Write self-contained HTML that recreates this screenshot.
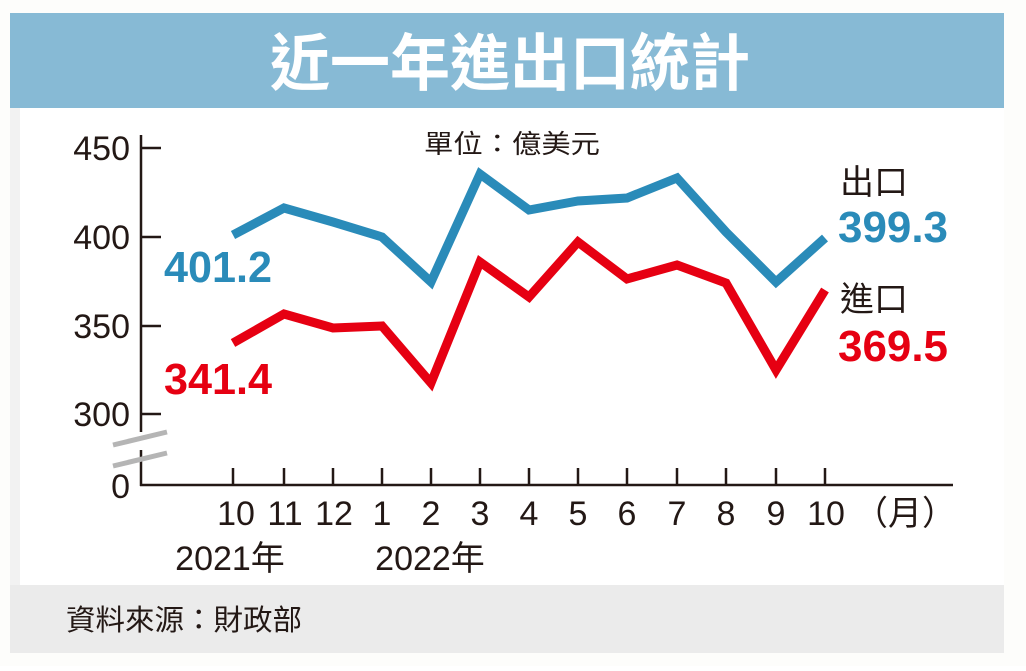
<!DOCTYPE html>
<html><head><meta charset="utf-8"><style>
body{margin:0;background:#fff;}
svg text{font-family:"Liberation Sans","Noto Sans CJK TC",sans-serif;}
</style></head><body>
<svg width="1026" height="666" xmlns="http://www.w3.org/2000/svg">
<rect x="0" y="0" width="1026" height="666" fill="#fdfdfb"/>
<rect x="10" y="13" width="994" height="640" fill="#f2f2f2"/>
<rect x="10" y="13" width="994" height="95" fill="#87bad5"/>
<text x="510" y="85" text-anchor="middle" font-size="62" font-weight="bold" fill="#fff" textLength="480" lengthAdjust="spacingAndGlyphs">近一年進出口統計</text>
<rect x="20" y="108" width="984" height="477" fill="#fff"/>
<rect x="10" y="585" width="994" height="68" fill="#ebebeb"/>
<text x="66" y="630" font-size="29" fill="#231815" textLength="236" lengthAdjust="spacingAndGlyphs">資料來源：財政部</text>
<text x="424" y="153" font-size="26" fill="#231815" textLength="176" lengthAdjust="spacingAndGlyphs">單位：億美元</text>
<g stroke="#231815" stroke-width="2.5" fill="none">
<line x1="141" y1="135" x2="141" y2="432"/>
<line x1="141" y1="450" x2="141" y2="486"/>
<line x1="140" y1="485" x2="953" y2="485"/>
<line x1="141" y1="148" x2="161" y2="148"/>
<line x1="141" y1="237" x2="161" y2="237"/>
<line x1="141" y1="326" x2="161" y2="326"/>
<line x1="141" y1="414" x2="161" y2="414"/>
<path d="M233 468V485M284 468V485M333 468V485M382 468V485M431 468V485M480 468V485M529 468V485M578 468V485M627 468V485M677 468V485M726 468V485M776 468V485M825 468V485"/>
</g>
<g stroke="#b5b5b5" stroke-width="5">
<line x1="113" y1="445" x2="167" y2="432"/>
<line x1="113" y1="466" x2="167" y2="453"/>
</g>
<g font-size="34" fill="#231815" text-anchor="end">
<text x="130" y="160">450</text><text x="130" y="249">400</text><text x="130" y="338">350</text><text x="130" y="426">300</text><text x="130" y="498">0</text>
</g>
<g font-size="34" fill="#231815" text-anchor="middle">
<text x="236" y="525">10</text><text x="285" y="525">11</text><text x="334" y="525">12</text><text x="382" y="525">1</text><text x="431" y="525">2</text><text x="480" y="525">3</text><text x="529" y="525">4</text><text x="578" y="525">5</text><text x="627" y="525">6</text><text x="677" y="525">7</text><text x="726" y="525">8</text><text x="776" y="525">9</text><text x="826" y="525">10</text><text x="905" y="525">（月）</text>
<text x="230" y="570">2021年</text><text x="430" y="570">2022年</text>
</g>
<polyline fill="none" stroke="#2a8bb9" stroke-width="9" stroke-linejoin="miter" points="233,235 284,208 333,222 382,237 431,282 480,174 529,210 578,201 627,198 677,178 726,232 776,282 825,238"/>
<polyline fill="none" stroke="#e60012" stroke-width="9" stroke-linejoin="miter" points="233,343 284,314 333,328 382,326 431,383 480,262 529,297 578,242 627,279 677,265 726,283 776,370 825,290"/>
<g font-weight="bold" font-size="44">
<text x="164" y="282" fill="#2a8bb9" textLength="108" lengthAdjust="spacingAndGlyphs">401.2</text>
<text x="164" y="394" fill="#e60012" textLength="108" lengthAdjust="spacingAndGlyphs">341.4</text>
<text x="838" y="242" fill="#2a8bb9" textLength="110" lengthAdjust="spacingAndGlyphs">399.3</text>
<text x="838" y="361" fill="#e60012" textLength="110" lengthAdjust="spacingAndGlyphs">369.5</text>
</g>
<text x="840" y="194" font-size="34" fill="#231815">出口</text>
<text x="840" y="311" font-size="34" fill="#231815">進口</text>
</svg>
</body></html>
